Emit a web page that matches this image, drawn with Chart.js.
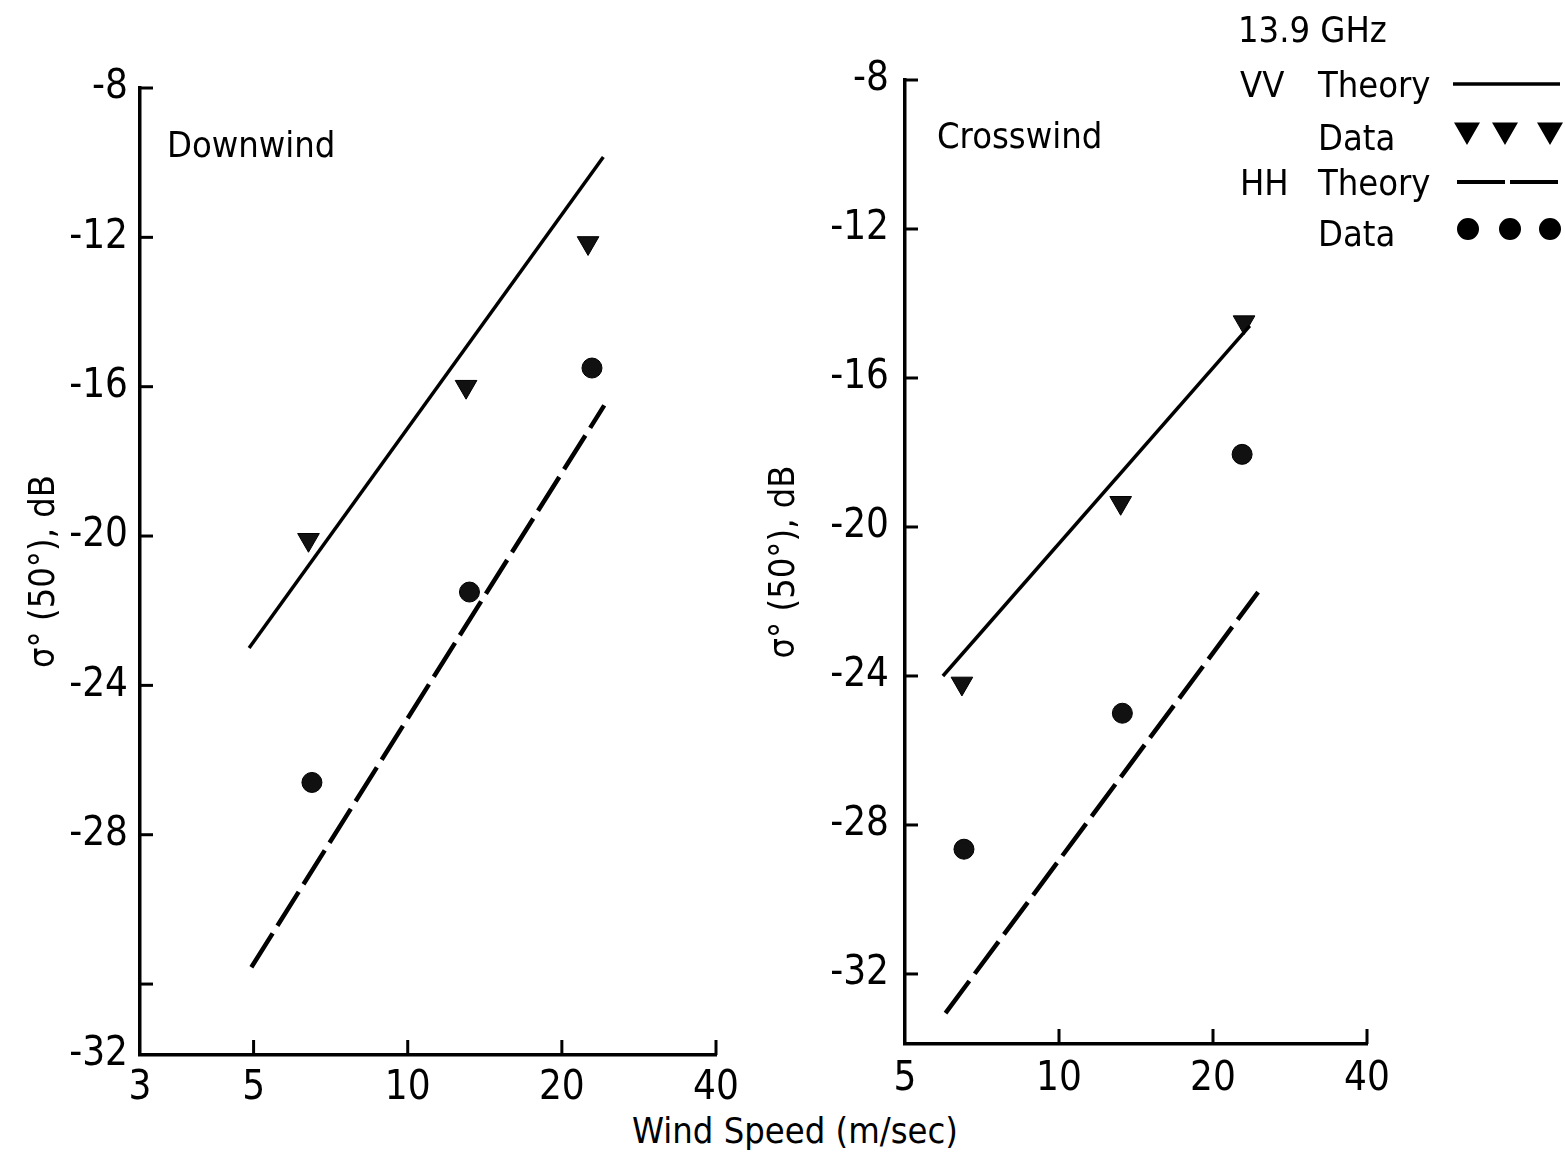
<!DOCTYPE html>
<html>
<head>
<meta charset="utf-8">
<script src="https://cdn.jsdelivr.net/npm/chart.js@4.4.1/dist/chart.umd.min.js"></script>
<style>
  html, body { margin: 0; padding: 0; background: #fff; }
  #page { position: relative; width: 1565px; height: 1160px; overflow: hidden; background: #fff; }
  .panel { position: absolute; top: 0; height: 1110px; }
  #leftBox { left: 0; width: 770px; }
  #rightBox { left: 760px; width: 805px; }
  #xtitle {
    position: absolute; left: 545px; width: 500px; top: 1110px; text-align: center;
    font: 36px "DejaVu Sans Condensed", "Liberation Sans Narrow", sans-serif; color: #000;
  }
</style>
</head>
<body>
<div id="page">
  <div class="panel" id="leftBox"><canvas id="leftChart"></canvas></div>
  <div class="panel" id="rightBox"><canvas id="rightChart"></canvas></div>
  <div id="xtitle">Wind Speed (m/sec)</div>
</div>
<script>
// ---- data (x = wind speed m/s, y = sigma0 dB) ----
const yTickValues = [-8, -12, -16, -20, -24, -28, -32];
const leftXTicks = [3, 5, 10, 20, 40];
const rightXTicks = [5, 10, 20, 40];

// Downwind
const downVVTheoryX = [4.9, 24.1];
const downVVTheoryY = [-23.0, -9.85];
const downVVDataX = [6.4, 13.0, 22.5];
const downVVDataY = [-20.1, -16.0, -12.15];
const downHHTheoryX = [4.95, 24.2];
const downHHTheoryY = [-31.55, -16.5];
const downHHDataX = [6.5, 13.2, 22.9];
const downHHDataY = [-26.6, -21.5, -15.5];

// Crosswind
const crossVVTheoryX = [5.93, 23.6];
const crossVVTheoryY = [-24.0, -14.6];
const crossVVDataX = [6.46, 13.2, 23.0];
const crossVVDataY = [-24.2, -19.35, -14.5];
const crossHHTheoryX = [6.0, 24.5];
const crossHHTheoryY = [-33.05, -21.75];
const crossHHDataX = [6.52, 13.3, 22.8];
const crossHHDataY = [-28.65, -25.0, -18.05];

const numFamily = '"Liberation Sans Narrow", "DejaVu Sans Condensed", sans-serif';
const wordFamily = '"DejaVu Sans Condensed", "Liberation Sans Narrow", sans-serif';

function pts(xs, ys) {
    return xs.map((x, i) => ({ x: x, y: ys[i] }));
}

// inward tick marks like the original figure
const innerTicks = {
    id: 'innerTicks',
    afterDraw(chart, args, opts) {
        const ctx = chart.ctx;
        const xs = chart.scales.x, ys = chart.scales.y;
        const a = chart.chartArea;
        ctx.save();
        ctx.strokeStyle = '#000';
        ctx.lineWidth = 3;
        opts.xTicks.forEach((v, i) => {
            if (i === 0) return;
            const px = xs.getPixelForValue(v);
            ctx.beginPath();
            ctx.moveTo(px, a.bottom);
            ctx.lineTo(px, a.bottom - 15);
            ctx.stroke();
        });
        yTickValues.forEach(v => {
            const py = ys.getPixelForValue(v);
            ctx.beginPath();
            ctx.moveTo(a.left, py);
            ctx.lineTo(a.left + 13, py);
            ctx.stroke();
        });
        // panel caption
        ctx.fillStyle = '#000';
        ctx.font = '36px ' + wordFamily;
        ctx.textBaseline = 'alphabetic';
        ctx.fillText(opts.caption, a.left + opts.capDx, opts.capY);
        ctx.restore();
    }
};

// key in the upper right corner
const keyBox = {
    id: 'keyBox',
    afterDraw(chart, args, opts) {
        if (!opts.show) return;
        const ctx = chart.ctx;
        ctx.save();
        ctx.fillStyle = '#000';
        ctx.strokeStyle = '#000';
        ctx.font = '36px ' + wordFamily;
        ctx.textBaseline = 'alphabetic';
        ctx.fillText('13.9 GHz', 478, 42);
        ctx.fillText('VV', 480, 97);
        ctx.fillText('Theory', 558, 97);
        ctx.fillText('Data', 558, 150);
        ctx.fillText('HH', 480, 195);
        ctx.fillText('Theory', 558, 195);
        ctx.fillText('Data', 558, 246);
        ctx.lineWidth = 3.5;
        ctx.beginPath(); ctx.moveTo(693, 84); ctx.lineTo(800, 84); ctx.stroke();
        ctx.lineWidth = 4;
        ctx.setLineDash([48, 5]);
        ctx.beginPath(); ctx.moveTo(697, 182); ctx.lineTo(800, 182); ctx.stroke();
        ctx.setLineDash([]);
        [707, 745, 790].forEach(x => Chart.helpers.drawPoint(ctx,
            { pointStyle: 'triangle', rotation: 180, radius: 11, borderWidth: 1 }, x, 130));
        [708, 750, 790].forEach(x => Chart.helpers.drawPoint(ctx,
            { pointStyle: 'circle', radius: 9, borderWidth: 1 }, x, 229));
        ctx.restore();
    }
};

function makePanel(id, p) {
    const ctx = document.getElementById(id).getContext('2d');
    return new Chart(ctx, {
        type: 'scatter',
        data: {
            datasets: [
                { label: 'VV Theory', data: pts(p.vvTX, p.vvTY), showLine: true, borderColor: '#000',
                  borderWidth: 3.5, pointRadius: 0 },
                { label: 'HH Theory', data: pts(p.hhTX, p.hhTY), showLine: true, borderColor: '#000',
                  borderWidth: 4.5, borderDash: [40, 9], pointRadius: 0 },
                { label: 'VV Data', data: pts(p.vvDX, p.vvDY), pointStyle: 'triangle', pointRotation: 180,
                  pointRadius: 12.5, backgroundColor: '#111', borderColor: '#000', borderWidth: 1 },
                { label: 'HH Data', data: pts(p.hhDX, p.hhDY), pointStyle: 'circle',
                  pointRadius: 10, backgroundColor: '#111', borderColor: '#000', borderWidth: 1 }
            ]
        },
        options: {
            responsive: true,
            maintainAspectRatio: false,
            animation: false,
            layout: { padding: { left: 0, top: p.top, right: p.right, bottom: 0 } },
            plugins: {
                legend: { display: false },
                tooltip: { enabled: false },
                innerTicks: { xTicks: p.xTicks, caption: p.caption, capDx: p.capDx, capY: p.capY },
                keyBox: { show: p.key }
            },
            scales: {
                x: {
                    type: 'logarithmic', min: p.xMin, max: 40,
                    afterBuildTicks: s => { s.ticks = p.xTicks.map(v => ({ value: v })); },
                    afterFit: s => { s.height = p.xAxisH; },
                    ticks: { callback: v => String(v), color: '#000', padding: p.xPad,
                             font: { family: numFamily, size: 40 }, maxRotation: 0, autoSkip: false },
                    grid: { display: false, drawTicks: false },
                    border: { display: true, color: '#000', width: 3.5 }
                },
                y: {
                    type: 'linear', min: p.yMin, max: -8,
                    afterBuildTicks: s => { s.ticks = p.yTicks.map(v => ({ value: v })); },
                    afterFit: s => { s.width = p.yAxisW; },
                    ticks: { callback: v => p.yLabel(v), color: '#000', padding: p.yPad,
                             font: { family: numFamily, size: 40 }, autoSkip: false },
                    grid: { display: false, drawTicks: false },
                    border: { display: true, color: '#000', width: 3.5 },
                    title: { display: true, text: 'σ° (50°), dB', color: '#000',
                             font: { family: wordFamily, size: 36 }, padding: { top: p.titlePad, bottom: 0 } }
                }
            }
        },
        plugins: [innerTicks, keyBox]
    });
}

const leftYMin = -33.9;
makePanel('leftChart', {
    vvTX: downVVTheoryX, vvTY: downVVTheoryY, hhTX: downHHTheoryX, hhTY: downHHTheoryY,
    vvDX: downVVDataX, vvDY: downVVDataY, hhDX: downHHDataX, hhDY: downHHDataY,
    xMin: 3, xTicks: leftXTicks, yMin: leftYMin,
    yTicks: yTickValues.concat([leftYMin]),
    // the original figure prints "-32" at the corner and leaves the -32 tick bare
    yLabel: v => (v === leftYMin ? '-32' : (v === -32 ? '' : String(v))),
    top: 88, right: 54, xAxisH: 55, yAxisW: 140, xPad: 10, yPad: 12, titlePad: 23,
    caption: 'Downwind', capDx: 27, capY: 157, key: false
});

makePanel('rightChart', {
    vvTX: crossVVTheoryX, vvTY: crossVVTheoryY, hhTX: crossHHTheoryX, hhTY: crossHHTheoryY,
    vvDX: crossVVDataX, vvDY: crossVVDataY, hhDX: crossHHDataX, hhDY: crossHHDataY,
    xMin: 5, xTicks: rightXTicks, yMin: -33.88,
    yTicks: yTickValues,
    yLabel: v => String(v),
    top: 80, right: 198, xAxisH: 66, yAxisW: 145, xPad: 12, yPad: 16, titlePad: 3,
    caption: 'Crosswind', capDx: 32, capY: 148, key: true
});
</script>
</body>
</html>
